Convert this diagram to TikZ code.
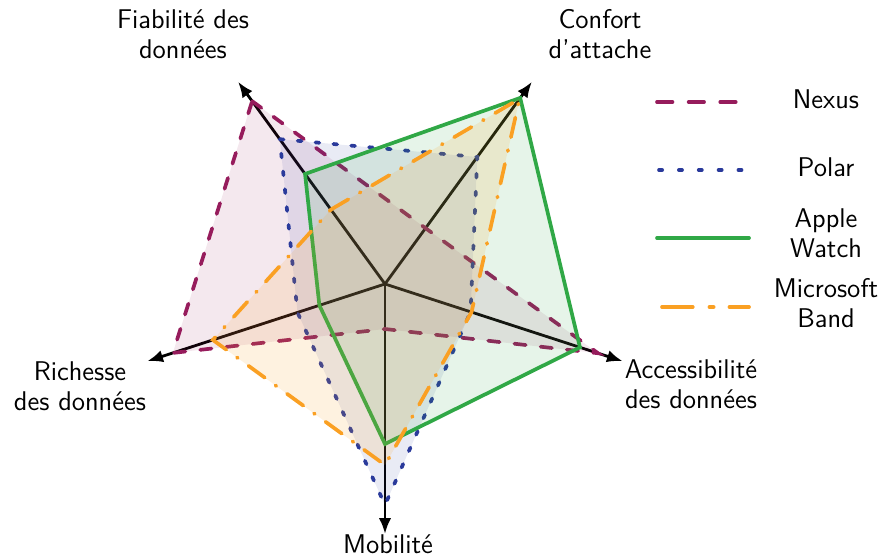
\documentclass[tikz,border=0pt]{standalone}
\usepackage{fontspec}
\usetikzlibrary{arrows.meta}
\definecolor{cnexus}{RGB}{150,28,92}
\definecolor{cpolar}{RGB}{42,58,155}
\definecolor{capple}{RGB}{48,168,70}
\definecolor{cms}{RGB}{250,160,35}
\tikzset{
  axisline/.style={line width=1.6pt, black, -{Latex[length=9pt,width=7pt]}},
  nexus/.style={draw=cnexus, fill=cnexus, fill opacity=0.1, draw opacity=1, line width=2.1pt, line cap=round, dash pattern=on 6.5pt off 8.5pt},
  polar/.style={draw=cpolar, fill=cpolar, fill opacity=0.1, draw opacity=1, line width=2.1pt, line cap=round, dash pattern=on 2.2pt off 8pt},
  apple/.style={draw=capple, fill=capple, fill opacity=0.12, draw opacity=1, line width=2.1pt, line join=miter},
  msband/.style={draw=cms, fill=cms, fill opacity=0.14, draw opacity=1, line width=2.1pt, line cap=round, dash pattern=on 11.5pt off 7.5pt on 0.6pt off 7.5pt},
  lab/.style={font=\sffamily\fontsize{15.4}{17.4}\selectfont, inner sep=0pt, align=center},
  legline/.style={line width=2.1pt, line cap=round},
}
\begin{document}
\begin{tikzpicture}[x=0.02cm, y=-0.02cm]
\path[use as bounding box] (0,0) rectangle (879,558);
\begin{scope}[shift={(385,284)}]
  \coordinate (O) at (0,0);
  \coordinate (aF) at (234:250);
  \coordinate (aC) at (306:250);
  \coordinate (aA) at (18:250);
  \coordinate (aM) at (90:250);
  \coordinate (aR) at (162:250);
  \foreach \t in {aF,aC,aA,aM,aR} \draw[axisline] (O) -- (\t);
  % Nexus
  \draw[nexus] (234:226) -- (306:69) -- (18:224) -- (90:45) -- (162:223) -- cycle;
  % Polar
  \draw[polar] (234:179) -- (306:157) -- (18:90) -- (90:221) -- (162:92) -- cycle;
  % Apple Watch
  \draw[apple] (234:136) -- (306:230) -- (18:205) -- (90:160) -- (162:69) -- cycle;
  % Microsoft Band
  \draw[msband] (234:92) -- (306:229) -- (18:91) -- (90:181) -- (162:181) -- cycle;
\end{scope}
\node[lab, anchor=north] (lF) at (183,9) {Fiabilité des\\données};
\node[lab, anchor=north] (lC) at (600,9) {Confort\\d'attache};
\node[lab, anchor=north] (lR) at (80,361) {Richesse\\des données};
\node[lab, anchor=north] (lA) at (691,359) {Accessibilité\\des données};
\node[lab, anchor=base] (lM) at (388,553) {Mobilité};
% legend
\coordinate (n1) at (657,102); \coordinate (n2) at (738,102);
\draw[legline, cnexus, dash pattern=on 8.8pt off 9.2pt] (n1) -- (n2);
\node[lab, anchor=base] (tN) at (826,108) {Nexus};
\coordinate (p1) at (659,170); \coordinate (p2) at (743,170);
\draw[legline, cpolar, dash pattern=on 1.8pt off 9.5pt] (p1) -- (p2);
\node[lab, anchor=base] (tP) at (826,176) {Polar};
\coordinate (w1) at (657,238); \coordinate (w2) at (749,238);
\draw[legline, capple] (w1) -- (w2);
\node[lab, anchor=north] (tW) at (826,208) {Apple\\Watch};
\coordinate (m1) at (662,307); \coordinate (m2) at (749,307);
\draw[legline, cms, dash pattern=on 17.5pt off 9.5pt on 2.4pt off 9pt] (m1) -- (m2);
\node[lab, anchor=north] (tB) at (826,278) {Microsoft\\Band};
\end{tikzpicture}
\end{document}
